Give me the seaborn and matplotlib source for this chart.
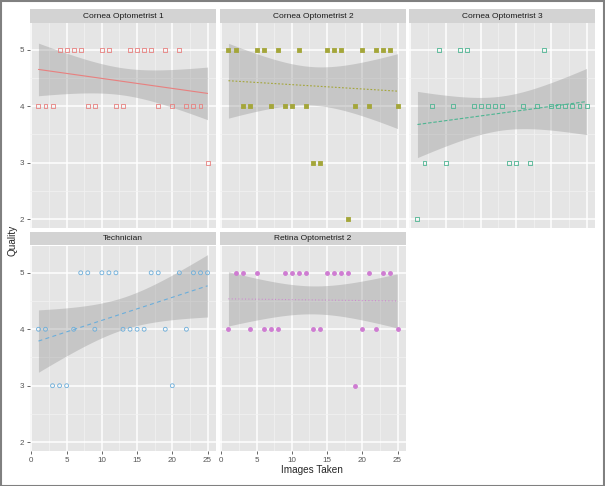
import numpy as np
import pandas as pd
import matplotlib
matplotlib.use("Agg")
import matplotlib.pyplot as plt
from matplotlib.patches import Rectangle
from matplotlib.ticker import MultipleLocator
import seaborn as sns

# ================================
# Data: quality score for each image number (1..25), per observer
# ================================
images = list(range(1, 26))
cornea_opt_1 = [4, 4, 4, 5, 5, 5, 5, 4, 4, 5, 5, 4, 4, 5, 5, 5, 5, 4, 5, 4, 5, 4, 4, 4, 3]
cornea_opt_2 = [5, 5, 4, 4, 5, 5, 4, 5, 4, 4, 5, 4, 3, 3, 5, 5, 5, 2, 4, 5, 4, 5, 5, 5, 4]
cornea_opt_3 = [2, 3, 4, 5, 3, 4, 5, 5, 4, 4, 4, 4, 4, 3, 3, 4, 3, 4, 5, 4, 4, 4, 4, 4, 4]
technician = [4, 4, 3, 3, 3, 4, 5, 5, 4, 5, 5, 5, 4, 4, 4, 4, 5, 5, 4, 3, 5, 4, 5, 5, 5]
retina_opt_2 = [4, 5, 5, 4, 5, 4, 4, 4, 5, 5, 5, 5, 4, 4, 5, 5, 5, 5, 3, 4, 5, 4, 5, 5, 4]

observers = ["Cornea Optometrist 1", "Cornea Optometrist 2", "Cornea Optometrist 3",
             "Technician", "Retina Optometrist 2"]
scores = [cornea_opt_1, cornea_opt_2, cornea_opt_3, technician, retina_opt_2]

df = pd.DataFrame({
    "Images Taken": images * len(observers),
    "Quality": [q for s in scores for q in s],
    "Observer": [o for o in observers for _ in images],
})

# ggplot-ish styling per facet (slightly muted hues, as in the scan)
colors = ["#E8807F", "#A4A63A", "#4DB592", "#6BAEDB", "#CF7CD2"]
markers = ["s", "s", "s", "o", "o"]
filled = [False, True, False, False, True]
dashes = [None, (1.6, 1.6), (3.2, 1.6), (3.6, 3.0), (0.8, 2.2)]

T_CRIT = 2.0687  # t(0.975, df=23)

sns.set_theme(style="darkgrid")
plt.rcParams["font.family"] = ["Liberation Sans", "DejaVu Sans"]

W, H = 605, 486
fig = plt.figure(figsize=(W / 100, H / 100), dpi=100)
fig.patch.set_facecolor("white")

col_left = [30, 220, 409]
col_w = 186
row_top = [22.7, 245.7]
row_h = 205.5
strip_h = 13.2


def px_rect(left, top, w, h):
    return [left / W, 1 - (top + h) / H, w / W, h / H]


for i, obs in enumerate(observers):
    r, c = divmod(i, 3)
    ax = fig.add_axes(px_rect(col_left[c], row_top[r], col_w, row_h))
    ax.set_facecolor("#E5E5E5")
    for s in ax.spines.values():
        s.set_visible(False)

    sub = df[df["Observer"] == obs]
    x = sub["Images Taken"].to_numpy(float)
    y = sub["Quality"].to_numpy(float)

    # linear fit with 95% confidence band (like geom_smooth(method="lm"))
    n = len(x)
    b1, b0 = np.polyfit(x, y, 1)
    resid = y - (b0 + b1 * x)
    s_err = np.sqrt(np.sum(resid ** 2) / (n - 2))
    xs = np.linspace(x.min(), x.max(), 100)
    fit = b0 + b1 * xs
    se = s_err * np.sqrt(1 / n + (xs - x.mean()) ** 2 / np.sum((x - x.mean()) ** 2))
    ax.fill_between(xs, fit - T_CRIT * se, fit + T_CRIT * se, color="#999999",
                    alpha=0.4, linewidth=0, zorder=2)

    sns.scatterplot(data=sub, x="Images Taken", y="Quality", ax=ax, marker=markers[i],
                    s=8, facecolor=colors[i] if filled[i] else "none",
                    edgecolor=colors[i], linewidth=0.6, zorder=3, legend=False)

    line, = ax.plot(xs, fit, color=colors[i], lw=0.8, zorder=4)
    if dashes[i] is not None:
        line.set_dashes(dashes[i])

    ax.set_xlim(-0.2, 26.2)
    ax.set_ylim(1.84, 5.48)
    ax.set_xticks([0, 5, 10, 15, 20, 25])
    ax.set_yticks([2, 3, 4, 5])
    ax.xaxis.set_minor_locator(MultipleLocator(2.5))
    ax.yaxis.set_minor_locator(MultipleLocator(0.5))
    ax.grid(which="major", color="white", lw=1.1)
    ax.grid(which="minor", color="#F2F2F2", lw=0.5)
    ax.set_axisbelow(True)
    ax.tick_params(which="major", length=2.5, width=0.6, color="#4D4D4D",
                   labelsize=5.8, labelcolor="#555555", pad=1.5,
                   bottom=(i >= 3), left=(c == 0),
                   labelbottom=(i >= 3), labelleft=(c == 0))
    ax.tick_params(which="minor", length=0)
    ax.set_xlabel("")
    ax.set_ylabel("")

    # facet strip
    sax = fig.add_axes(px_rect(col_left[c], row_top[r] - strip_h - (0.5 if r else 0), col_w, strip_h))
    sax.set_facecolor("#D3D3D3")
    sax.set_xticks([])
    sax.set_yticks([])
    for s in sax.spines.values():
        s.set_visible(False)
    sax.text(0.5, 0.5, obs, ha="center", va="center", fontsize=6, color="#1A1A1A",
             transform=sax.transAxes)

fig.text(312 / W, 1 - 470 / H, "Images Taken", ha="center", va="center", fontsize=7.2)
fig.text(12 / W, 1 - 240 / H, "Quality", ha="center", va="center", rotation=90, fontsize=7.2)

# thin frame round the picture
fig.patches.append(Rectangle((0.001, 0.001), 0.997, 0.997, transform=fig.transFigure,
                             fill=False, edgecolor="#808080", lw=1.5))

plt.savefig("out.png", dpi=100)
